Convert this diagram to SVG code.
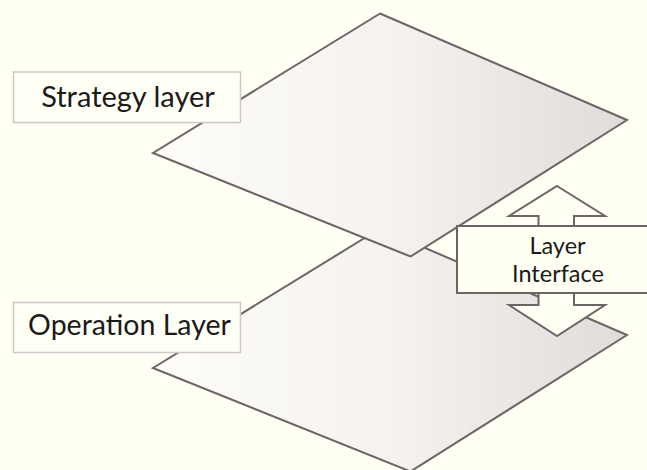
<svg xmlns="http://www.w3.org/2000/svg" width="647" height="470" viewBox="0 0 647 470">
  <defs>
    <linearGradient id="planeGrad" gradientUnits="userSpaceOnUse" x1="153" y1="0" x2="628" y2="0">
      <stop offset="0" stop-color="#fefdf9"/>
      <stop offset="0.5" stop-color="#f5f2ef"/>
      <stop offset="1" stop-color="#dfdcdb"/>
    </linearGradient>
    <style>
      .plane { fill: url(#planeGrad); stroke: #6a6566; stroke-width: 2; stroke-linejoin: miter; }
      .label-box { fill: #fffff6; stroke: #cdc8c8; stroke-width: 1.5; }
      .label { font-family: Lato, "Liberation Sans", sans-serif; fill: #1a1a1a; text-anchor: middle; }
      .iface { fill: #fffff4; stroke: #6a6566; stroke-width: 2; }
    </style>
  </defs>
  <rect x="0" y="0" width="647" height="470" fill="#fffff4"/>

  <g id="operation-plane">
    <polygon class="plane" points="380,228.5 627,335 410.5,471.5 153,368"/>
  </g>
  <g id="strategy-plane">
    <polygon class="plane" points="380,13.5 627,120 410.5,256.5 153,153"/>
  </g>

  <g id="strategy-label">
    <rect class="label-box" x="13.5" y="72" width="227" height="50.5"/>
    <text class="label" x="128" y="106.5" font-size="29">Strategy layer</text>
  </g>
  <g id="operation-label">
    <rect class="label-box" x="13.5" y="302.5" width="227" height="50"/>
    <text class="label" x="129.5" y="334.5" font-size="28.5">Operation Layer</text>
  </g>

  <g id="connectors">
    <polygon class="iface" points="557,186 605,216 574,216 574,305 605,305 557,336 509,305 538.5,305 538.5,216 509,216"/>
  </g>

  <g id="layer-interface">
    <rect class="iface" x="457" y="226" width="200" height="67"/>
    <text class="label" x="557.5" y="253.5" font-size="23.5">Layer</text>
    <text class="label" x="558" y="282" font-size="23.5">Interface</text>
  </g>
</svg>
